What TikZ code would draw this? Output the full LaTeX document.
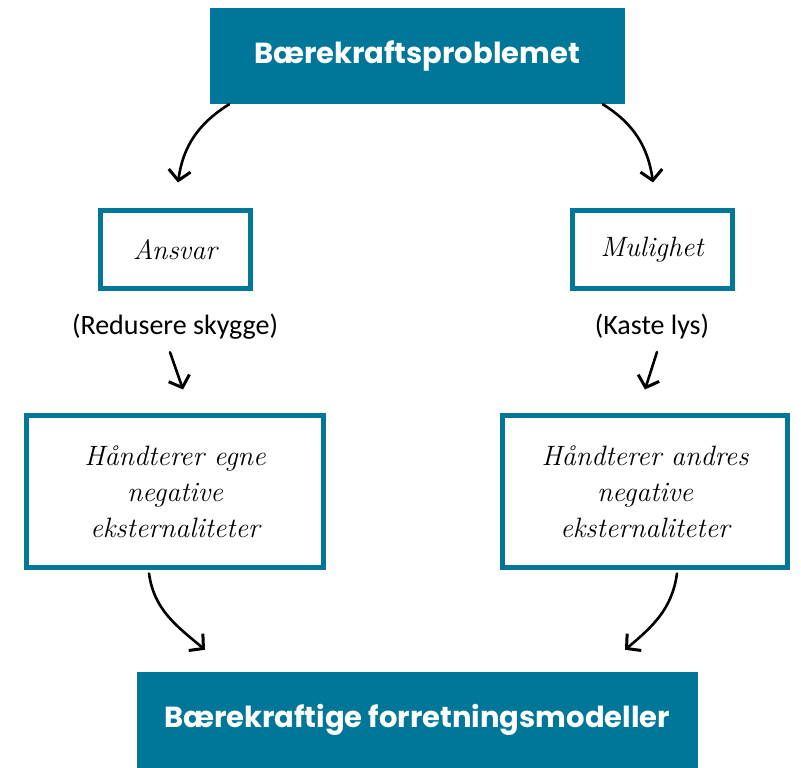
\documentclass[tikz,border=0pt]{standalone}
\usepackage{fontspec}
\usepackage{tikz}
\usetikzlibrary{positioning,arrows.meta}
\newfontfamily\titlefont{Poppins}
\newfontfamily\notefont{Carlito}
\definecolor{petrol}{RGB}{0,119,153}

\tikzset{
  headbox/.style={fill=petrol, text=white, inner sep=0pt,
    font=\titlefont\bfseries\fontsize{29}{34}\selectfont},
  framebox/.style={draw=petrol, line width=5pt, inner sep=0pt, align=center,
    font=\itshape\fontsize{28}{36}\selectfont},
  notetext/.style={font=\notefont\fontsize{28}{32}\selectfont},
  sketch/.style={line width=2.6pt, line cap=round,
    -{Straight Barb[length=10pt,width=22pt,line width=3pt]}}
}

\begin{document}
\begin{tikzpicture}[x=1pt,y=1pt,node distance=1pt,on grid]
   \useasboundingbox (0,0) rectangle (801,768);

   \node[headbox, minimum width=415, minimum height=96] (problem) at (417,712) {Bærekraftsproblemet};
   \node[framebox, minimum width=150, minimum height=78] (ansvar) [below left=194 and 242 of problem] {Ansvar};
   \node[framebox, minimum width=160, minimum height=78] (mulighet) [right=477 of ansvar] {Mulighet};
   \node[notetext] (skygge) [below=77 of ansvar] {(Redusere skygge)};
   \node[notetext] (lys) [below=77 of mulighet] {(Kaste lys)};
   \node[framebox, minimum width=297, minimum height=152] (egne) [below=165 of skygge] {Håndterer egne\\negative\\eksternaliteter};
   \node[framebox, minimum width=285, minimum height=152] (andres) [below left=165 and 7 of lys] {Håndterer andres\\negative\\eksternaliteter};
   \node[headbox, minimum width=561, minimum height=96] (modeller) at (417,48) {Bærekraftige forretningsmodeller};

    \draw[sketch] ([xshift=20]problem.south west) to[out=212, in=82] ([xshift=3,yshift=26]ansvar.north);
    \draw[sketch] ([xshift=-22]problem.south east) to[out=-32, in=98] ([xshift=1,yshift=26]mulighet.north);
    \draw[sketch] ([xshift=-5,yshift=-9]skygge.south) -- ([xshift=8,yshift=24]egne.north);
    \draw[sketch] ([xshift=5,yshift=-9]lys.south) -- ([xshift=0,yshift=24]andres.north);
    \draw[sketch] ([xshift=-26,yshift=-3]egne.south) to[out=-82, in=140] ([xshift=-212,yshift=22]modeller.north);
    \draw[sketch] ([xshift=32,yshift=-3]andres.south) to[out=-98, in=40] ([xshift=208,yshift=22]modeller.north);
\end{tikzpicture}
\end{document}
